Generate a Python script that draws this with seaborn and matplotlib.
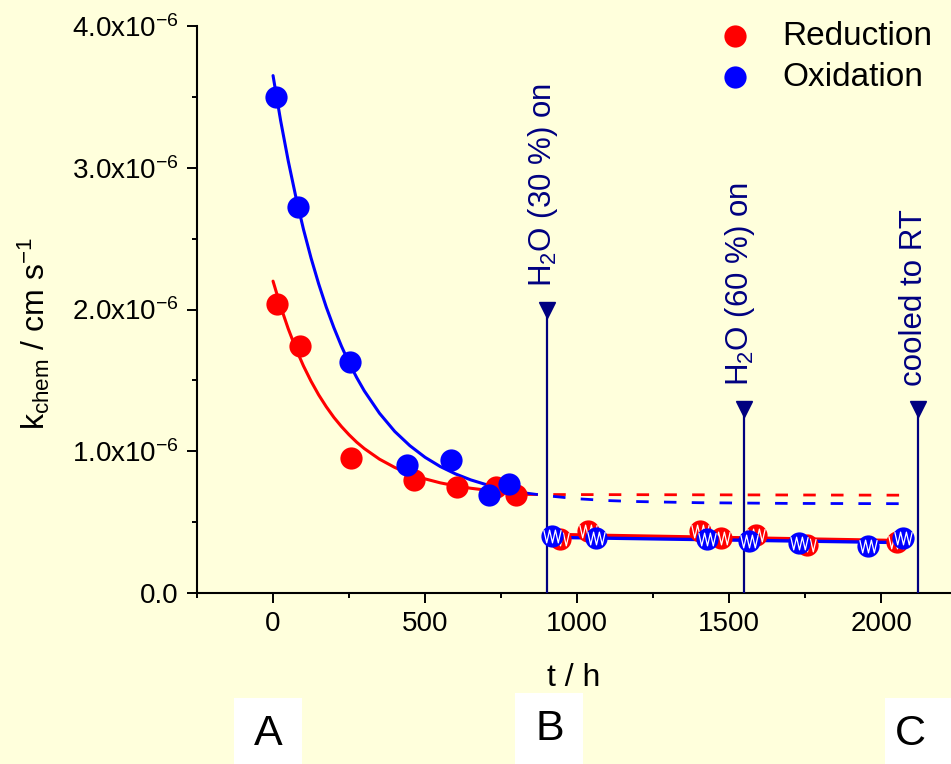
import numpy as np
import pandas as pd
import matplotlib
matplotlib.use("Agg")
import matplotlib.pyplot as plt
from matplotlib.path import Path
from matplotlib.patches import Rectangle
from matplotlib.ticker import MultipleLocator, FixedLocator, FixedFormatter
import seaborn as sns

# ---------------- data (k in units of 1e-6 cm/s, t in h) ----------------
red_A_t = [14, 87, 257, 462, 606, 732, 798]
red_A_k = [2.04, 1.74, 0.95, 0.80, 0.75, 0.75, 0.69]
blue_A_t = [9, 82, 252, 442, 586, 710, 776]
blue_A_k = [3.50, 2.72, 1.63, 0.90, 0.94, 0.69, 0.77]

red_B_t = [944, 1037, 1404, 1473, 1589, 1755, 2051]
red_B_k = [0.38, 0.44, 0.44, 0.39, 0.41, 0.34, 0.36]
blue_B_t = [917, 1062, 1428, 1566, 1730, 1957, 2072]
blue_B_k = [0.40, 0.39, 0.38, 0.37, 0.35, 0.33, 0.39]

# fitted curves
fit_t = [0, 25, 50, 75, 100, 125, 150, 175, 200, 225, 250, 275, 300,
         350, 400, 450, 500, 550, 600, 650, 700, 750, 800, 830]
red_fit_k = [2.200, 2.021, 1.864, 1.725, 1.602, 1.494, 1.398, 1.314, 1.239,
             1.174, 1.116, 1.064, 1.019, 0.944, 0.886, 0.840, 0.805, 0.777,
             0.756, 0.739, 0.726, 0.716, 0.708, 0.704]
blue_fit_k = [3.650, 3.332, 3.048, 2.794, 2.566, 2.363, 2.181, 2.017, 1.872,
              1.741, 1.624, 1.520, 1.426, 1.268, 1.140, 1.039, 0.957, 0.892,
              0.840, 0.798, 0.765, 0.738, 0.716, 0.706]

red_ext_t = [830, 2085]
red_ext_k = [0.695, 0.690]
blue_ext_t = [830, 900, 1000, 1100, 1200, 1400, 1700, 2085]
blue_ext_k = [0.706, 0.686, 0.665, 0.652, 0.645, 0.637, 0.632, 0.630]

red_Bfit_t = [900, 2078]
red_Bfit_k = [0.414, 0.369]
blue_Bfit_t = [900, 2078]
blue_Bfit_k = [0.393, 0.355]

event_t = [900, 1550, 2120]
event_k = [2.0, 1.3, 1.3]
event_labels = ["H$_2$O (30 %) on", "H$_2$O (60 %) on", "cooled to RT"]
event_label_k = [2.16, 1.46, 1.46]

y_ticks = [0, 1, 2, 3, 4]
y_ticklabels = ["0.0", "1.0x10$^{-6}$", "2.0x10$^{-6}$", "3.0x10$^{-6}$", "4.0x10$^{-6}$"]
x_ticks = [0, 500, 1000, 1500, 2000]
series_names = ["Reduction", "Oxidation"]
phase_letters = ["A", "B", "C"]

SCALE = 1e-6
RED = "#FF0000"
BLUE = "#0000FF"
NAVY = "#000080"
BG = "#FFFFDC"

sns.set_style("ticks")
plt.rcParams['font.family'] = ['Liberation Sans', 'DejaVu Sans']
plt.rcParams['mathtext.fontset'] = 'custom'
plt.rcParams['mathtext.rm'] = 'Liberation Sans'
plt.rcParams['mathtext.it'] = 'Liberation Sans:italic'
plt.rcParams['mathtext.bf'] = 'Liberation Sans:bold'
plt.rcParams['text.color'] = 'black'
plt.rcParams['axes.labelcolor'] = 'black'
plt.rcParams['xtick.color'] = 'black'
plt.rcParams['ytick.color'] = 'black'

fig = plt.figure(figsize=(9.51, 7.64), dpi=100, facecolor=BG)
ax = fig.add_axes([197 / 951, 171 / 764, 1 - 197 / 951, (593 - 26) / 764])
ax.set_facecolor(BG)

def sc(v):
    return [x * SCALE for x in v]

# fitted curves (phase A)
sns.lineplot(x=fit_t, y=sc(red_fit_k), ax=ax, color=RED, lw=2.2, zorder=2, sort=False)
sns.lineplot(x=fit_t, y=sc(blue_fit_k), ax=ax, color=BLUE, lw=2.2, zorder=2, sort=False)
# extrapolations
ax.plot(red_ext_t, sc(red_ext_k), color=RED, lw=2.0, dashes=(4.5, 5.5), zorder=2)
ax.plot(blue_ext_t, sc(blue_ext_k), color=BLUE, lw=2.0, dashes=(4.5, 5.5), zorder=2)
# phase B/C fits
sns.lineplot(x=red_Bfit_t, y=sc(red_Bfit_k), ax=ax, color=RED, lw=2.4, zorder=2)
sns.lineplot(x=blue_Bfit_t, y=sc(blue_Bfit_k), ax=ax, color=BLUE, lw=2.4, zorder=2)

# vertical event lines
for t, k in zip(event_t, event_k):
    ax.plot([t, t], [0, k * SCALE], color=NAVY, lw=1.6, zorder=3)
    ax.plot([t], [k * SCALE], marker='v', color=NAVY, markersize=12, zorder=3)
for t, k, lab in zip(event_t, event_label_k, event_labels):
    ax.text(t - 14, k * SCALE, lab, rotation=90, ha='center', va='bottom',
            color=NAVY, fontsize=22.5, zorder=3)

MS = 16
# phase A points
sns.scatterplot(x=red_A_t, y=sc(red_A_k), ax=ax, color=RED, s=MS ** 2, linewidth=0,
                zorder=4, label=series_names[0])
sns.scatterplot(x=blue_A_t, y=sc(blue_A_k), ax=ax, color=BLUE, s=MS ** 2, linewidth=0,
                zorder=5, label=series_names[1])

# phase B points with water zig-zag
zig = Path([(-0.75, 0.55), (-0.5, -0.55), (-0.25, 0.55), (0.0, -0.55),
            (0.25, 0.55), (0.5, -0.55), (0.75, 0.55)],
           [Path.MOVETO] + [Path.LINETO] * 6)
sns.scatterplot(x=red_B_t, y=sc(red_B_k), ax=ax, color=RED, s=MS ** 2, linewidth=0, zorder=6)
ax.plot(red_B_t, sc(red_B_k), ls='none', marker=zig, markersize=12.5,
        markeredgecolor='white', markerfacecolor='none', markeredgewidth=0.9, zorder=7)
sns.scatterplot(x=blue_B_t, y=sc(blue_B_k), ax=ax, color=BLUE, s=MS ** 2, linewidth=0, zorder=8)
ax.plot(blue_B_t, sc(blue_B_k), ls='none', marker=zig, markersize=12.5,
        markeredgecolor='white', markerfacecolor='none', markeredgewidth=0.9, zorder=9)

# axes styling
ax.set_xlim(-250, 2229)
ax.set_ylim(0, 4.0e-6)
sns.despine(ax=ax)
for s in ['left', 'bottom']:
    ax.spines[s].set_linewidth(1.5)
    ax.spines[s].set_color('black')
ax.yaxis.set_major_locator(FixedLocator(sc(y_ticks)))
ax.yaxis.set_major_formatter(FixedFormatter(y_ticklabels))
ax.yaxis.set_minor_locator(MultipleLocator(0.5e-6))
ax.xaxis.set_major_locator(FixedLocator(x_ticks))
ax.xaxis.set_minor_locator(MultipleLocator(250))
ax.tick_params(which='major', direction='out', length=7, width=1.4, labelsize=20,
               colors='black', pad=6)
ax.tick_params(which='minor', direction='out', length=3.6, width=1.4, colors='black')

ax.set_xlabel("t / h", fontsize=23, color='black')
ax.xaxis.set_label_coords(0.5, (593 - 678) / 567)
ax.xaxis.label.set_va('center')
ax.set_ylabel("k$_{\\mathrm{chem}}$ / cm s$^{-1}$", fontsize=23, color='black')
ax.yaxis.set_label_coords(-0.192, 0.457)

leg = ax.legend(loc='upper left', bbox_to_anchor=(0.755, 0.973), bbox_transform=fig.transFigure,
                frameon=False, fontsize=24, handlelength=1.0, handletextpad=0.94,
                labelspacing=0.30, borderpad=0, borderaxespad=0, markerscale=1.0)
for txt in leg.get_texts():
    txt.set_color('black')

# phase letters in white boxes
boxes = [(234, 698, 68, 66), (515, 693, 68, 71), (885, 698, 70, 66)]
centers = [(268, 734), (549.5, 729), (910.5, 734)]
for (bx, by, bw, bh), (cx, cy), letter in zip(boxes, centers, phase_letters):
    fig.patches.append(Rectangle((bx / 951, 1 - (by + bh) / 764), bw / 951, bh / 764,
                                 transform=fig.transFigure, facecolor='white',
                                 edgecolor='none', zorder=0))
    fig.text(cx / 951, 1 - cy / 764, letter, ha='center', va='center', fontsize=31,
             color='black')

fig.savefig("out.png", dpi=100, facecolor=BG)
